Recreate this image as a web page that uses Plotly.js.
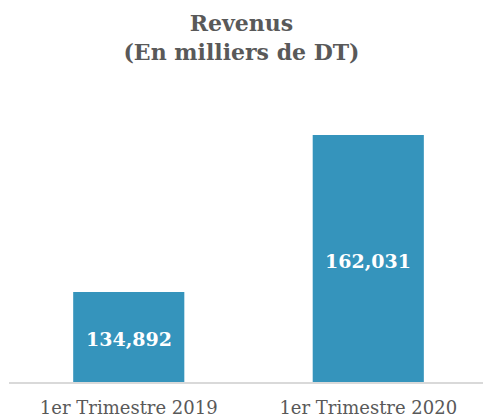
<!DOCTYPE html>
<html>
<head>
<meta charset="utf-8">
<script src="https://cdn.plot.ly/plotly-3.0.1.min.js"></script>
<style>html,body{margin:0;padding:0;background:#fff;}#chart{width:483px;height:418px;}</style>
</head>
<body>
<div id="chart"></div>
<script>
const categories = ["1er Trimestre 2019", "1er Trimestre 2020"];
const revenus = [134892, 162031];
const titleLines = ["Revenus", "(En milliers de DT)"];

const serif = "DejaVu Serif, Georgia, serif";
const yRange = [119335, 168082];

const trace = {
  type: "bar",
  x: categories,
  y: revenus,
  width: 0.464,
  marker: { color: "#3594bc" },
  hoverinfo: "none"
};

const labels = categories.map((c, i) => ({
  x: c,
  y: (revenus[i] + yRange[0]) / 2,
  xref: "x",
  yref: "y",
  text: "<b>" + revenus[i].toLocaleString("en-US") + "</b>",
  showarrow: false,
  yshift: -2,
  font: { family: serif, size: 19, color: "#ffffff" }
}));

const layout = {
  width: 483,
  height: 418,
  margin: { l: 9, r: 0, t: 100, b: 36 },
  paper_bgcolor: "#ffffff",
  plot_bgcolor: "#ffffff",
  showlegend: false,
  title: {
    text: "<b>" + titleLines.join("<br>") + "</b>",
    font: { family: serif, size: 22, color: "#595959" },
    x: 0.5,
    xanchor: "center",
    y: 0.925,
    yanchor: "top",
    yref: "container"
  },
  annotations: labels,
  xaxis: {
    type: "category",
    range: [-0.5, 1.479],
    showline: true,
    linecolor: "#d9d9d9",
    linewidth: 2,
    showgrid: false,
    zeroline: false,
    ticks: "",
    ticklabelstandoff: 8,
    tickfont: { family: serif, size: 18, color: "#595959" },
    fixedrange: true
  },
  yaxis: {
    visible: false,
    range: yRange,
    showgrid: false,
    zeroline: false,
    fixedrange: true
  }
};

Plotly.newPlot("chart", [trace], layout, { displayModeBar: false, staticPlot: true });
</script>
</body>
</html>
